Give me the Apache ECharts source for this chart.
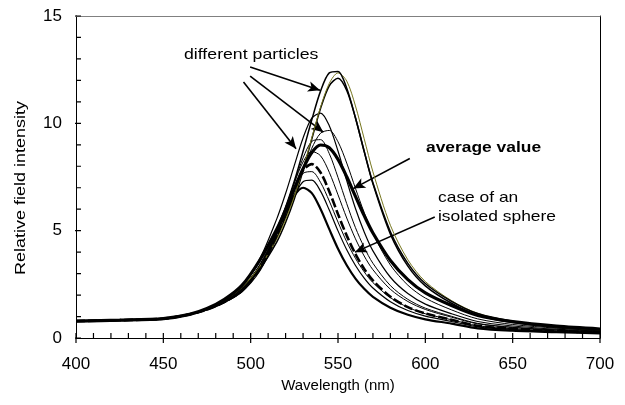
<!DOCTYPE html>
<html><head><meta charset="utf-8">
<script src="https://cdn.jsdelivr.net/npm/echarts@6/dist/echarts.min.js"></script>
<style>html,body{margin:0;padding:0;background:#fff}#c{width:625px;height:405px}</style>
</head><body><div id="c"></div>
<script>
const wavelengths = [400,425,450,465,475,485,495,505,515,520,525,530,535,540,545,550,555,560,565,570,580,590,600,615,630,650,675,700];
const curveA = [0.79,0.83,0.90,1.10,1.37,1.80,2.45,3.55,5.10,6.10,7.31,8.70,10.17,11.50,12.35,12.42,11.63,10.26,8.70,7.23,4.95,3.48,2.54,1.71,1.14,0.78,0.53,0.39];
const curveB = [0.79,0.83,0.90,1.10,1.35,1.75,2.35,3.30,4.62,5.51,6.60,7.89,9.33,10.75,11.86,12.35,11.97,10.81,9.28,7.74,5.25,3.64,2.63,1.74,1.15,0.77,0.52,0.38];
const curveC = [0.79,0.83,0.90,1.10,1.34,1.72,2.30,3.19,4.48,5.38,6.48,7.80,9.27,10.69,11.75,12.10,11.53,10.25,8.68,7.18,4.84,3.35,2.43,1.62,1.06,0.72,0.49,0.36];
const curveD = [0.79,0.83,0.90,1.10,1.37,1.80,2.45,3.65,5.56,6.73,8.04,9.32,10.24,10.48,9.89,8.71,7.33,6.03,4.94,4.06,2.83,2.07,1.58,1.13,0.77,0.56,0.41,0.32];
const curveE = [0.79,0.83,0.90,1.10,1.35,1.75,2.35,3.33,4.69,5.61,6.66,7.80,8.84,9.54,9.67,9.14,8.15,6.97,5.84,4.86,3.40,2.46,1.86,1.31,0.89,0.63,0.46,0.36];
const curveF = [0.79,0.83,0.90,1.10,1.34,1.72,2.30,3.35,4.94,6.02,7.24,8.39,9.16,9.24,8.59,7.48,6.26,5.14,4.22,3.48,2.44,1.80,1.39,1.01,0.68,0.50,0.37,0.30];
const averageValue = [0.79,0.83,0.90,1.10,1.37,1.80,2.45,3.60,5.08,5.97,6.95,7.89,8.64,8.99,8.86,8.32,7.51,6.60,5.70,4.89,3.61,2.72,2.10,1.51,1.05,0.76,0.55,0.42];
const curveH = [0.79,0.83,0.90,1.10,1.34,1.72,2.30,3.39,5.01,6.08,7.22,8.20,8.69,8.49,7.72,6.67,5.59,4.62,3.82,3.18,2.27,1.70,1.33,0.97,0.66,0.49,0.37,0.29];
const isolatedSphere = [0.79,0.83,0.90,1.10,1.33,1.68,2.20,3.19,4.80,5.85,6.95,7.81,8.10,7.71,6.83,5.77,4.77,3.91,3.22,2.68,1.92,1.44,1.14,0.85,0.57,0.43,0.32,0.26];
const curveJ = [0.79,0.83,0.90,1.10,1.33,1.68,2.20,3.26,4.91,5.96,6.98,7.67,7.75,7.25,6.38,5.40,4.48,3.71,3.08,2.58,1.88,1.43,1.13,0.85,0.57,0.43,0.33,0.27];
const curveK = [0.79,0.83,0.90,1.10,1.32,1.65,2.15,3.10,4.67,5.66,6.62,7.28,7.35,6.84,5.96,4.99,4.11,3.38,2.79,2.33,1.69,1.28,1.02,0.77,0.52,0.39,0.30,0.25];
const curveL = [0.79,0.83,0.90,1.10,1.33,1.68,2.20,3.25,4.88,5.83,6.63,7.00,6.75,6.01,5.07,4.16,3.39,2.77,2.29,1.92,1.41,1.08,0.87,0.67,0.45,0.34,0.27,0.22];

// tick values
const xMajorTicks = [400,450,500,550,600,650,700];
const yMajorTicks = [0,5,10,15];
const xMinorStep = 10;
const yMinorStep = 1;

// annotation arrows in data coordinates [start, end]
const arrowParticles1 = [[499.7,12.62],[539.7,11.54]];
const arrowParticles2 = [[499.7,12.20],[541.6,9.59]];
const arrowParticles3 = [[495.9,11.92],[526.0,8.82]];
const arrowAverage = [[591.1,8.36],[558.7,6.96]];
const arrowIsolated = [[605.4,5.64],[559.7,4.00]];

const FONT = '"Liberation Sans", Arial, Helvetica, sans-serif';
const curves = [
  {d: curveL, color:'#000', w:2.2},
  {d: curveK, color:'#000', w:1.2},
  {d: curveJ, color:'#000', w:1},
  {d: curveH, color:'#000', w:1},
  {d: curveF, color:'#000', w:1},
  {d: curveE, color:'#000', w:1},
  {d: curveD, color:'#000', w:1.2},
  {d: curveC, color:'#000', w:1.5},
  {d: curveB, color:'#77771f', w:1},
  {d: curveA, color:'#000', w:1.5},
  {d: averageValue, color:'#000', w:3.2},
  {d: isolatedSphere, color:'#000', w:2.6, type:[9,3]}
];
const series = curves.map((c, k) => ({
  type:'line', data: wavelengths.map((w,i)=>[w,c.d[i]]),
  symbol:'none', showSymbol:false, smooth:0.3,
  lineStyle:{color:c.color, width:c.w, type:c.type||'solid'},
  silent:true, animation:false, z: 2 + k
}));
const arrows = [arrowParticles1, arrowParticles2, arrowParticles3, arrowAverage, arrowIsolated];
series.push({
  type:'line', data:[], symbol:'none', silent:true, animation:false, z:20,
  markLine:{
    silent:true, animation:false, symbol:['none','arrow'], symbolSize:[8,12],
    label:{show:false},
    lineStyle:{color:'#000', width:1.6, type:'solid'},
    emphasis:{disabled:true},
    data: arrows.map(a => [{coord:a[0]},{coord:a[1]}])
  }
});

// axis tick marks as short broken line segments (about 5 px long)
const X0 = 400, X1 = 700, Y0 = 0, Y1 = 15;
const pxPerX = 524 / (X1 - X0), pxPerY = 322 / (Y1 - Y0);
const tickData = [];
function seg(a, b) { tickData.push(a, b, [a[0], '-']); }
for (let v = X0; v <= X1 + 1e-9; v += xMinorStep) seg([v, Y0], [v, Y0 + 5 / pxPerY]);
xMajorTicks.forEach(v => seg([v, Y0], [v, Y0 - 5 / pxPerY]));
for (let v = Y0; v <= Y1 + 1e-9; v += yMinorStep) seg([X0, v], [X0 + 5 / pxPerX, v]);
yMajorTicks.forEach(v => seg([X0, v], [X0 - 6 / pxPerX, v]));
series.push({
  type:'line', data:tickData, symbol:'none', showSymbol:false, connectNulls:false,
  silent:true, animation:false, z:30, clip:false, smooth:false,
  lineStyle:{color:'#000', width:1.2, type:'solid', cap:'butt'}
});
series.push({type:'line', xAxisIndex:1, yAxisIndex:1, data:[[400,0],[700,15]],
  symbol:'none', lineStyle:{opacity:0, width:0}, silent:true, animation:false});

const gridBox = {left:76, right:25, top:16, bottom:67, containLabel:false};
const chart = echarts.init(document.getElementById('c'), null, {renderer:'canvas'});
chart.setOption({
  animation:false,
  backgroundColor:'#fff',
  textStyle:{fontFamily:FONT},
  grid:[Object.assign({show:false}, gridBox), Object.assign({show:false}, gridBox)],
  xAxis:[
    {gridIndex:0, type:'value', min:X0, max:X1, interval:50, position:'bottom',
     axisLine:{show:true, onZero:false, lineStyle:{color:'#000', width:1}},
     axisTick:{show:false},
     axisLabel:{show:true, fontSize:17, color:'#000', margin:18, fontFamily:FONT},
     splitLine:{show:false},
     name:'Wavelength (nm)', nameLocation:'middle', nameGap:40,
     nameTextStyle:{fontSize:15, color:'#000', fontFamily:FONT}},
    {gridIndex:1, type:'value', min:X0, max:X1, interval:50, position:'top',
     axisLine:{show:true, onZero:false, lineStyle:{color:'#808080', width:1}},
     axisTick:{show:false}, axisLabel:{show:false}, splitLine:{show:false}}
  ],
  yAxis:[
    {gridIndex:0, type:'value', min:Y0, max:Y1, interval:5, position:'left',
     axisLine:{show:true, onZero:false, lineStyle:{color:'#000', width:1}},
     axisTick:{show:false},
     axisLabel:{show:true, fontSize:17, color:'#000', margin:14, fontFamily:FONT},
     splitLine:{show:false}},
    {gridIndex:1, type:'value', min:Y0, max:Y1, interval:5, position:'right',
     axisLine:{show:true, onZero:false, lineStyle:{color:'#000', width:1}},
     axisTick:{show:false}, axisLabel:{show:false}, splitLine:{show:false}}
  ],
  graphic:[
    {type:'text', x:21, y:188, rotation:Math.PI/2, scaleX:1.2,
     style:{text:'Relative field intensity', fontSize:15, fontFamily:FONT, fill:'#000', align:'center', verticalAlign:'middle'}},
    {type:'text', x:184, y:47, scaleX:1.18,
     style:{text:'different particles', fontSize:15, fontFamily:FONT, fill:'#000', verticalAlign:'top'}},
    {type:'text', x:426, y:140, scaleX:1.16,
     style:{text:'average value', fontSize:15, fontWeight:'bold', fontFamily:FONT, fill:'#000', verticalAlign:'top'}},
    {type:'text', x:438, y:190, scaleX:1.16,
     style:{text:'case of an', fontSize:15, fontFamily:FONT, fill:'#000', verticalAlign:'top'}},
    {type:'text', x:438, y:209, scaleX:1.16,
     style:{text:'isolated sphere', fontSize:15, fontFamily:FONT, fill:'#000', verticalAlign:'top'}}
  ],
  series: series
});
</script></body></html>
